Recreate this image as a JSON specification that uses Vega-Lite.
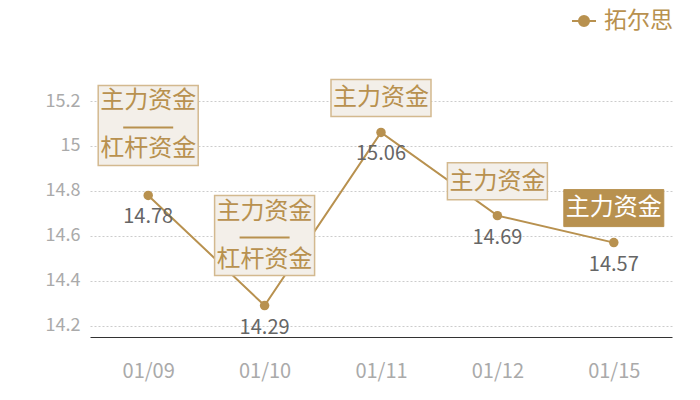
{
  "$schema": "https://vega.github.io/schema/vega-lite/v6.json",
  "width": 582,
  "height": 236,
  "autosize": "none",
  "padding": {"left": 90, "top": 101, "right": 28, "bottom": 63},
  "background": "white",
  "data": {
    "values": [
      {"date": "01/09", "price": 14.78, "tag1": "主力资金", "tag2": "杠杆资金"},
      {"date": "01/10", "price": 14.29, "tag1": "主力资金", "tag2": "杠杆资金"},
      {"date": "01/11", "price": 15.06, "tag1": "主力资金", "tag2": null},
      {"date": "01/12", "price": 14.69, "tag1": "主力资金", "tag2": null},
      {"date": "01/15", "price": 14.57, "tag1": "主力资金", "tag2": null}
    ]
  },
  "encoding": {
    "x": {
      "field": "date",
      "type": "ordinal",
      "sort": null,
      "scale": {"type": "point", "padding": 0.5},
      "axis": {
        "title": null,
        "domain": true,
        "domainColor": "#333",
        "domainWidth": 1,
        "ticks": false,
        "grid": false,
        "labelAngle": 0,
        "labelColor": "#aaa",
        "labelFontSize": 20,
        "labelPadding": 24
      }
    },
    "y": {
      "field": "price",
      "type": "quantitative",
      "scale": {"domain": [14.15, 15.2], "nice": false, "zero": false},
      "axis": {
        "title": null,
        "domain": false,
        "ticks": false,
        "grid": true,
        "gridColor": "#ccc",
        "gridDash": [2, 2],
        "values": [14.2, 14.4, 14.6, 14.8, 15, 15.2],
        "format": "~r",
        "labelColor": "#aaa",
        "labelFontSize": 18,
        "labelPadding": 10
      }
    }
  },
  "layer": [
    {
      "mark": {"type": "line", "color": "#b8914f", "strokeWidth": 2}
    },
    {
      "mark": {"type": "circle", "size": 90, "opacity": 1},
      "encoding": {
        "color": {
          "datum": "拓尔思",
          "scale": {"range": ["#b8914f"]},
          "legend": {
            "title": null,
            "orient": "none",
            "legendX": 481,
            "legendY": -93,
            "labelFontSize": 23,
            "labelColor": "#b8914f",
            "labelOffset": 7,
            "symbolType": "M-1,0H1M0.42,0A0.42,0.42 0 1 1 -0.42,0A0.42,0.42 0 1 1 0.42,0Z",
            "symbolSize": 576,
            "symbolStrokeColor": "#b8914f",
            "symbolStrokeWidth": 2
          }
        }
      }
    },
    {
      "mark": {"type": "text", "dy": 22, "fontSize": 20, "color": "#666"},
      "encoding": {"text": {"field": "price", "type": "quantitative", "format": ".2f"}}
    },
    {
      "transform": [{"filter": "isValid(datum.tag2)"}],
      "mark": {"type": "point", "shape": "M-1,-2.2H1V-0.6H-1Z", "size": 10000, "filled": true, "fill": "#f3efe9", "stroke": "#d3b98f", "strokeWidth": 1.5, "opacity": 1}
    },
    {
      "transform": [{"filter": "!isValid(datum.tag2) && datum.date != '01/15'"}],
      "mark": {"type": "point", "shape": "M-1,-1.06H1V-0.32H-1Z", "size": 10000, "filled": true, "fill": "#f3efe9", "stroke": "#d3b98f", "strokeWidth": 1.5, "opacity": 1}
    },
    {
      "transform": [{"filter": "datum.date == '01/15'"}],
      "mark": {"type": "point", "shape": "M-1,-1.06H1V-0.32H-1Z", "size": 10000, "filled": true, "fill": "#b8914f", "stroke": "#b8914f", "strokeWidth": 1, "opacity": 1}
    },
    {
      "transform": [{"filter": "isValid(datum.tag2)"}],
      "mark": {"type": "point", "shape": "M-0.5,-1.36H0.5", "size": 10000, "filled": false, "stroke": "#b8914f", "strokeWidth": 2, "opacity": 1}
    },
    {
      "transform": [{"filter": "isValid(datum.tag2)"}],
      "mark": {"type": "text", "dy": -94, "fontSize": 24, "color": "#b8914f"},
      "encoding": {"text": {"field": "tag1"}}
    },
    {
      "transform": [{"filter": "isValid(datum.tag2)"}],
      "mark": {"type": "text", "dy": -46, "fontSize": 24, "color": "#b8914f"},
      "encoding": {"text": {"field": "tag2"}}
    },
    {
      "transform": [{"filter": "!isValid(datum.tag2) && datum.date != '01/15'"}],
      "mark": {"type": "text", "dy": -34, "fontSize": 24, "color": "#b8914f"},
      "encoding": {"text": {"field": "tag1"}}
    },
    {
      "transform": [{"filter": "datum.date == '01/15'"}],
      "mark": {"type": "text", "dy": -35, "fontSize": 24, "color": "white"},
      "encoding": {"text": {"field": "tag1"}}
    }
  ],
  "config": {
    "font": "Noto Sans CJK SC",
    "view": {"stroke": null}
  }
}
